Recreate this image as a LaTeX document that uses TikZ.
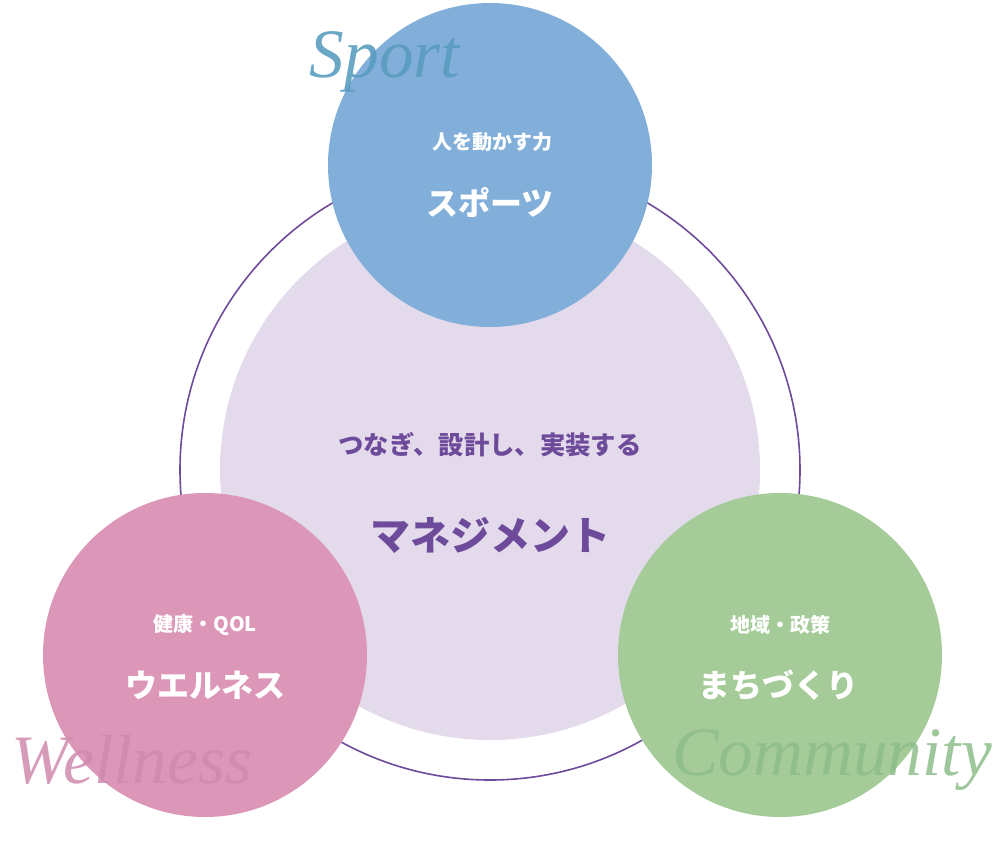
\documentclass[tikz,border=0pt]{standalone}
\usepackage{fontspec}
\newfontfamily\jp{Noto Sans CJK JP}
\newfontfamily\scr{Liberation Serif}
\definecolor{ring}{HTML}{6E4A9A}
\definecolor{lav}{HTML}{E3DAEC}
\definecolor{blu}{HTML}{82AFD9}
\definecolor{pnk}{HTML}{DC96B8}
\definecolor{grn}{HTML}{A5CC98}
\definecolor{sblu}{HTML}{5A9CC0}
\definecolor{spnk}{HTML}{D08AAE}
\definecolor{sgrn}{HTML}{8DBD8A}
\begin{document}
\begin{tikzpicture}[x=0.75pt,y=-0.75pt,
 sm/.style={circle,minimum size=324*0.75pt,inner sep=0pt},
 wt/.style={text=white,font=\jp\bfseries},
 sc/.style={font=\scr\itshape\fontsize{52}{52}\selectfont}]
\useasboundingbox (0,0) rectangle (1000,840);
\node[circle,draw=ring,line width=1.2pt,minimum size=620*0.75pt,inner sep=0pt] (ring) at (490,470) {};
\node[circle,fill=lav,minimum size=540*0.75pt,inner sep=0pt] (core) at (490,470) {};
\node[text=ring,font=\jp\bfseries\fontsize{19}{19}\selectfont] (t1) at (490,445) {つなぎ、設計し、実装する};
\node[text=ring,font=\jp\bfseries\fontsize{30}{30}\selectfont] (t2) at (490,535) {マネジメント};
\node[sm,fill=blu] (s) at (490,165) {};
\node[sm,fill=pnk] (w) at (205,655) {};
\node[sm,fill=grn] (c) at (780,655) {};
\node[wt,font=\jp\bfseries\fontsize{15}{15}\selectfont] (s1) at (492,142) {人を動かす力};
\node[wt,font=\jp\bfseries\fontsize{24}{24}\selectfont] (s2) at (490,203) {スポーツ};
\node[wt,font=\jp\bfseries\fontsize{15}{15}\selectfont] (w1) at (205,625) {健康・QOL};
\node[wt,font=\jp\bfseries\fontsize{24}{24}\selectfont] (w2) at (205,685) {ウエルネス};
\node[wt,font=\jp\bfseries\fontsize{15}{15}\selectfont] (c1) at (780,625) {地域・政策};
\node[wt,font=\jp\bfseries\fontsize{24}{24}\selectfont] (c2) at (778,685) {まちづくり};
\node[sc,text=sblu,opacity=0.9] (sp) at (385,62) {Sport};
\node[sc,text=spnk,opacity=0.85] (wl) at (132,760) {Wellness};
\node[sc,text=sgrn,opacity=0.85] (cm) at (832,760) {Community};
\end{tikzpicture}
\end{document}
